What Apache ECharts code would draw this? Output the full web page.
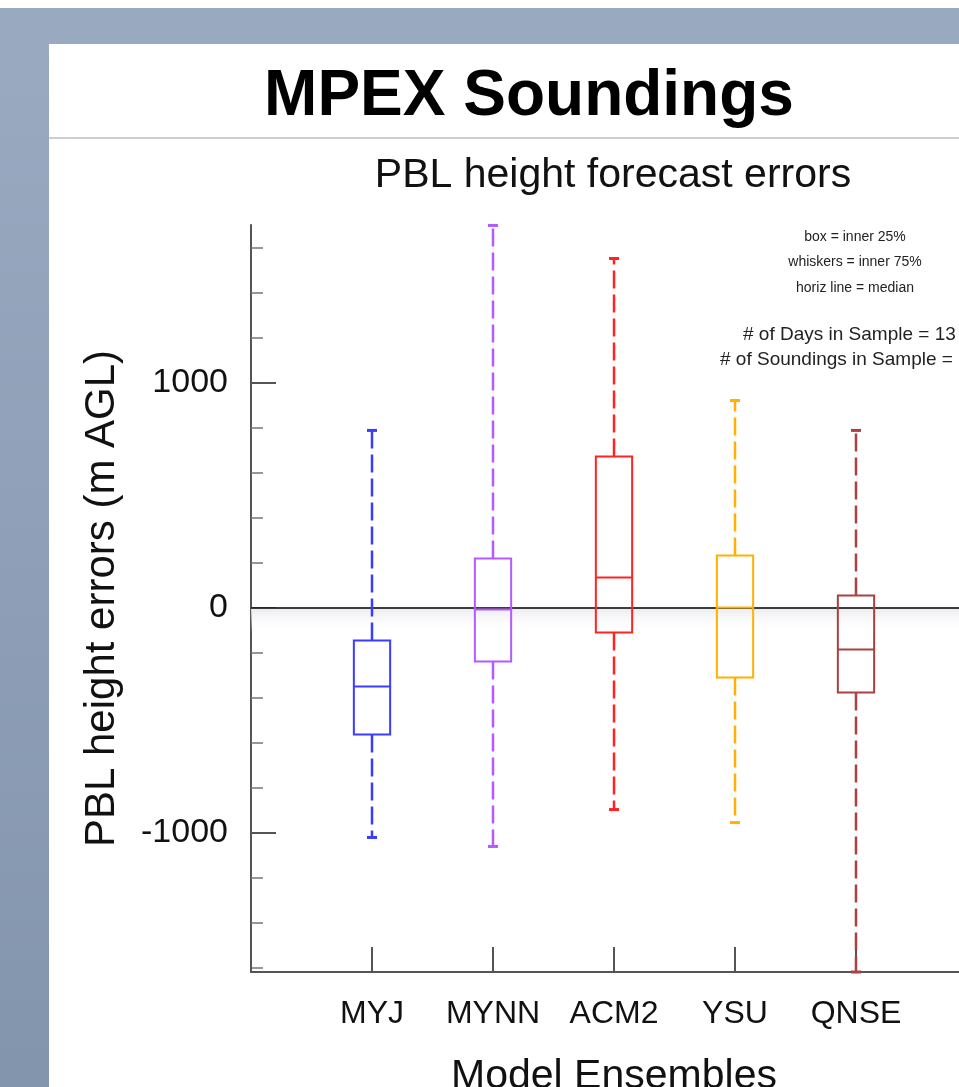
<!DOCTYPE html>
<html>
<head>
<meta charset="utf-8">
<script src="https://cdn.jsdelivr.net/npm/echarts@6/dist/echarts.min.js"></script>
<style>
  html, body { margin: 0; padding: 0; background: #ffffff; }
  #chart { width: 959px; height: 1087px; }
</style>
</head>
<body>
<div id="chart"></div>
<script>
// box plot values (m AGL)
const models = ['MYJ', 'MYNN', 'ACM2', 'YSU', 'QNSE'];
const whiskerLow = [-1022, -1062, -898, -956, -1620];
const boxLow = [-564, -240, -111, -311, -378];
const medians = [-351, -9, 133, 0, -187];
const boxHigh = [-147, 218, 671, 231, 53];
const whiskerHigh = [787, 1698, 1551, 920, 787];
const boxColors = ['#3c3cff', '#b45aff', '#ff2424', '#ffb000', '#aa4040'];

const majorTicks = [-1000, 0, 1000];
const minorTicks = [-1600, -1400, -1200, -800, -600, -400, -200, 200, 400, 600, 800, 1200, 1400, 1600];

const notesSmall = ['box = inner 25%', 'whiskers = inner 75%', 'horiz line = median'];
const notesLarge = ['# of Days in Sample = 13', '# of Soundings in Sample = 130'];

const font = '"Liberation Sans", Arial, Helvetica, sans-serif';

const chart = echarts.init(document.getElementById('chart'), null, { renderer: 'canvas' });

let data = [];
for (let i = 0; i < models.length; i++) {
  data.push([i + 1, whiskerLow[i], boxLow[i], medians[i], boxHigh[i], whiskerHigh[i]]);
}

function renderItem(params, api) {
  const x = api.value(0);
  const lo = api.coord([x, api.value(1)]);
  const q1 = api.coord([x, api.value(2)]);
  const md = api.coord([x, api.value(3)]);
  const q3 = api.coord([x, api.value(4)]);
  const hi = api.coord([x, api.value(5)]);
  const half = api.size([0.3, 0])[0] / 2;
  const cap = 5;
  const cx = lo[0];
  const color = boxColors[params.dataIndex];
  const solid = { stroke: color, lineWidth: 2, fill: null };
  const dashed = { stroke: color, lineWidth: 2.5, lineDash: [18, 6], fill: null };
  const capStyle = { stroke: color, lineWidth: 3, fill: null };
  return {
    type: 'group',
    children: [
      { type: 'line', shape: { x1: cx, y1: q3[1], x2: cx, y2: hi[1] }, style: dashed },
      { type: 'line', shape: { x1: cx, y1: q1[1], x2: cx, y2: lo[1] }, style: dashed },
      { type: 'line', shape: { x1: cx - cap, y1: hi[1], x2: cx + cap, y2: hi[1] }, style: capStyle },
      { type: 'line', shape: { x1: cx - cap, y1: lo[1], x2: cx + cap, y2: lo[1] }, style: capStyle },
      { type: 'rect', shape: { x: cx - half, y: q3[1], width: half * 2, height: q1[1] - q3[1] }, style: solid },
      { type: 'line', shape: { x1: cx - half, y1: md[1], x2: cx + half, y2: md[1] }, style: solid }
    ]
  };
}

let graphics = [
  // slide background pieces
  { type: 'rect', left: 0, top: 0, shape: { width: 959, height: 8 }, style: { fill: '#ffffff' }, z: -10 },
  { type: 'rect', left: 49, top: 44, shape: { width: 910, height: 1043 }, style: { fill: '#ffffff' }, z: -9 },
  { type: 'rect', left: 49, top: 137, shape: { width: 910, height: 2 }, style: { fill: '#cfcfcf' }, z: -8 },
  { type: 'text', x: 529, y: 97, style: { text: 'MPEX Soundings', font: 'bold 64px ' + font, fill: '#000', textAlign: 'center', textVerticalAlign: 'middle' } },
  { type: 'text', x: 613, y: 176, style: { text: 'PBL height forecast errors', font: '41px ' + font, fill: '#111', textAlign: 'center', textVerticalAlign: 'middle' } }
];
notesSmall.forEach((t, i) => {
  graphics.push({ type: 'text', x: 855, y: 237 + i * 25.5, style: { text: t, font: '14px ' + font, fill: '#222', textAlign: 'center', textVerticalAlign: 'middle' } });
});
notesLarge.forEach((t, i) => {
  graphics.push({ type: 'text', x: i === 0 ? 743 : 720, y: 335 + i * 25, style: { text: t, font: '19px ' + font, fill: '#222', textAlign: 'left', textVerticalAlign: 'middle' } });
});

const option = {
  animation: false,
  backgroundColor: new echarts.graphic.LinearGradient(0, 0, 0, 1, [
    { offset: 0, color: '#99aac1' },
    { offset: 1, color: '#8394ad' }
  ]),
  graphic: graphics,
  grid: { left: 251, top: 225, bottom: 115, right: -18, containLabel: false, outerBoundsMode: 'none' },
  xAxis: {
    type: 'value',
    min: 0,
    max: 6,
    interval: 1,
    splitLine: { show: false },
    axisLine: { show: true, onZero: false, lineStyle: { color: '#555', width: 2 } },
    axisTick: { inside: true, length: 25, lineStyle: { color: '#555', width: 2 } },
    axisLabel: {
      margin: 26,
      fontSize: 32,
      fontFamily: font,
      color: '#111',
      formatter: v => models[v - 1] || ''
    },
    name: 'Model Ensembles',
    nameLocation: 'middle',
    nameGap: 84,
    nameTextStyle: { fontSize: 41, fontFamily: font, color: '#111' }
  },
  yAxis: [
    {
      type: 'value',
      min: -1620,
      max: 1700,
      splitLine: { show: false },
      axisLine: { show: true, onZero: false, lineStyle: { color: '#555', width: 2 } },
      axisTick: { inside: true, length: 25, customValues: majorTicks, lineStyle: { color: '#555', width: 2 } },
      axisLabel: { customValues: majorTicks, formatter: v => String(v), margin: 23, fontSize: 34, fontFamily: font, color: '#111' },
      name: 'PBL height errors (m AGL)',
      nameLocation: 'middle',
      nameGap: 128,
      nameRotate: 90,
      nameTextStyle: { fontSize: 42, fontFamily: font, color: '#111' }
    },
    {
      type: 'value',
      min: -1620,
      max: 1700,
      position: 'left',
      splitLine: { show: false },
      axisLine: { show: false, onZero: false },
      axisTick: { inside: true, length: 12, customValues: minorTicks, lineStyle: { color: '#777', width: 1.5 } },
      axisLabel: { show: false }
    }
  ],
  series: [
    {
      type: 'custom',
      renderItem: renderItem,
      data: data,
      clip: false,
      z: 5,
      markLine: {
        silent: true,
        symbol: 'none',
        label: { show: false },
        lineStyle: { color: '#000', width: 1.5, type: 'solid' },
        data: [{ yAxis: 0 }]
      },
      markArea: {
        silent: true,
        itemStyle: {
          color: new echarts.graphic.LinearGradient(0, 0, 0, 1, [
            { offset: 0, color: '#e9eaee' },
            { offset: 1, color: 'rgba(255,255,255,0)' }
          ])
        },
        data: [[{ yAxis: 0 }, { yAxis: -110 }]]
      }
    }
  ]
};

chart.setOption(option);
</script>
</body>
</html>
